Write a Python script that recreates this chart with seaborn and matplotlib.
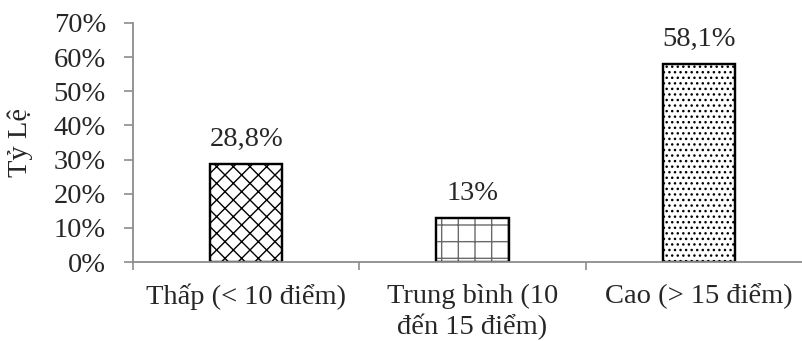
import matplotlib
matplotlib.use("Agg")
import matplotlib.pyplot as plt
import seaborn as sns
from matplotlib.patches import Rectangle
from matplotlib.ticker import FixedLocator, PercentFormatter

categories = ["Thấp (< 10 điểm)", "Trung bình (10\nđến 15 điểm)", "Cao (> 15 điểm)"]
values = [28.8, 13, 58.1]
value_labels = ["28,8%", "13%", "58,1%"]
hatches = ["xx", "+", "..."]
hatch_colors = ["black", "#6a6a6a", "black"]
y_ticks = [0, 10, 20, 30, 40, 50, 60, 70]

sns.set_style("white")
plt.rcParams["font.family"] = ["Liberation Serif", "DejaVu Serif"]
plt.rcParams["hatch.linewidth"] = 1.0

FS = 20.5

fig = plt.figure(figsize=(8.03, 3.41), dpi=100)
ax = fig.add_axes([133 / 803, 1 - 262 / 341, (803 - 133) / 803, (262 - 23) / 341])

sns.barplot(x=categories, y=values, color="white", edgecolor="black",
            linewidth=1.6, width=0.32, ax=ax)

# hatch fill drawn as an overlay so each bar can have its own hatch colour
for patch, h, hc in list(zip(ax.patches, hatches, hatch_colors)):
    overlay = Rectangle((patch.get_x(), patch.get_y()), patch.get_width(),
                        patch.get_height(), facecolor="none", edgecolor=hc,
                        linewidth=0, hatch=h, zorder=patch.get_zorder() + 0.1)
    ax.add_patch(overlay)
    outline = Rectangle((patch.get_x(), patch.get_y()), patch.get_width(),
                        patch.get_height(), facecolor="none", edgecolor="black",
                        linewidth=1.6, zorder=patch.get_zorder() + 0.2)
    ax.add_patch(outline)

for patch, val, lab in zip(ax.patches[:len(values)], values, value_labels):
    ax.annotate(lab, (patch.get_x() + patch.get_width() / 2, val),
                xytext=(0, 12.5), textcoords="offset points",
                ha="center", va="baseline", fontsize=FS)

axis_grey = "#8c8c8c"
ax.set_ylim(0, 70)
ax.set_xlim(-0.5, 2.46)
ax.yaxis.set_major_locator(FixedLocator(y_ticks))
ax.yaxis.set_major_formatter(PercentFormatter(decimals=0))
ax.set_ylabel("Tỷ Lệ", fontsize=FS, labelpad=15)
ax.set_xlabel("")

for side in ["top", "right"]:
    ax.spines[side].set_visible(False)
for side in ["left", "bottom"]:
    ax.spines[side].set_color(axis_grey)
    ax.spines[side].set_linewidth(1.3)
    ax.spines[side].set_zorder(5)

ax.tick_params(axis="y", which="major", left=True, direction="out", length=6.5,
               width=1.2, color=axis_grey, labelsize=FS, pad=13)
ax.tick_params(axis="x", which="major", bottom=False, labelsize=FS, pad=12)
ax.xaxis.set_minor_locator(FixedLocator([-0.5, 0.5, 1.5, 2.5]))
ax.tick_params(axis="x", which="minor", bottom=True, direction="out", length=6,
               width=1.2, color=axis_grey)
for lbl in ax.get_xticklabels():
    lbl.set_linespacing(1.25)

fig.savefig("out.png", dpi=100)
